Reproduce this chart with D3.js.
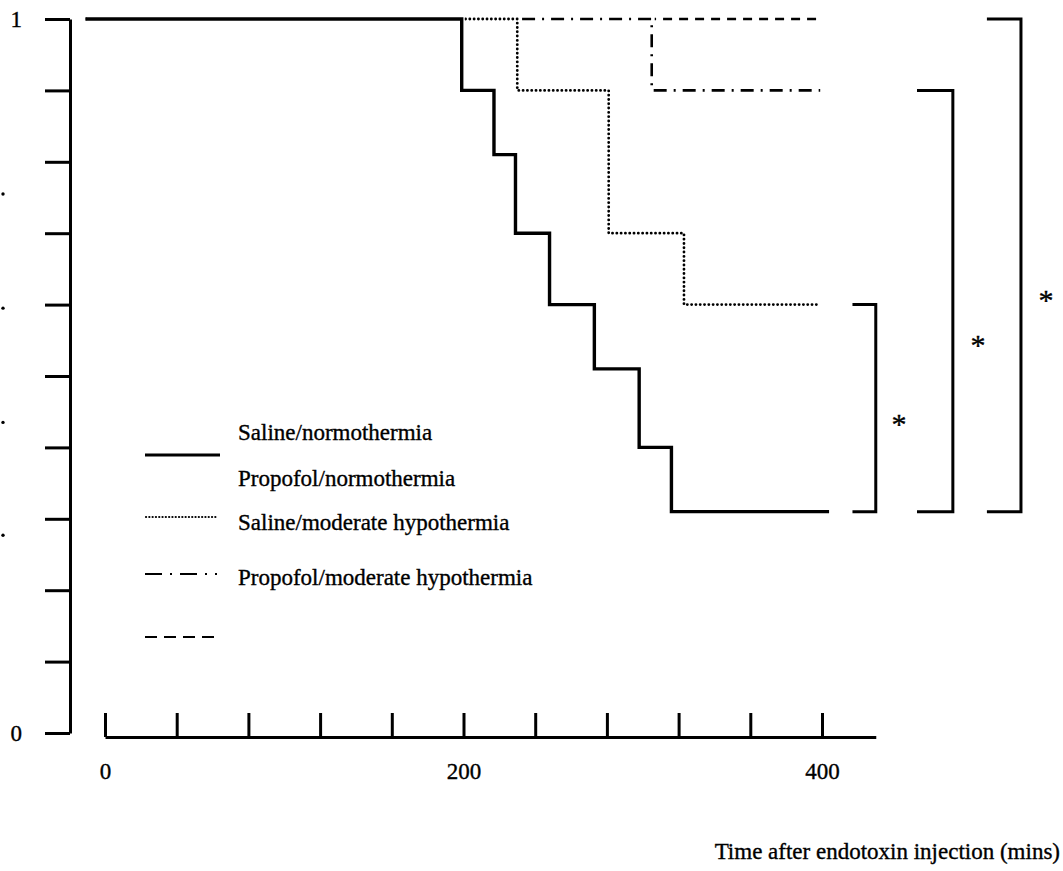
<!DOCTYPE html>
<html>
<head>
<meta charset="utf-8">
<script src="https://cdn.jsdelivr.net/npm/d3@7"></script>
<style>
  html, body { margin: 0; padding: 0; background: #fff; }
  svg { display: block; }
  text { font-family: "Liberation Serif", "Times New Roman", serif; fill: #000; stroke: #000; stroke-width: 0.35px; }
</style>
</head>
<body>
<svg id="chart" width="1063" height="871"></svg>
<script>
// Survival step curves: event times (mins) and surviving fraction after each step
const salineNormoTimes = [-10, 199, 217, 229, 248, 273, 298, 316, 403];
const salineNormoSurv  = [1, 0.9, 0.81, 0.7, 0.6, 0.51, 0.4, 0.31, 0.31];
const propofolNormoTimes = [-10, 230, 281, 323, 397];
const propofolNormoSurv  = [1, 0.9, 0.7, 0.6, 0.6];
const salineHypoTimes = [-10, 305, 399];
const salineHypoSurv  = [1, 0.9, 0.9];
const propofolHypoTimes = [-10, 399];
const propofolHypoSurv  = [1, 1];

// Legend labels
const legendLabels = ["Saline/normothermia", "Propofol/normothermia",
                      "Saline/moderate hypothermia", "Propofol/moderate hypothermia"];

// Axis ticks
const xTickValues = [0, 40, 80, 120, 160, 200, 240, 280, 320, 360, 400];
const xTickLabels = ["0", "", "", "", "", "200", "", "", "", "", "400"];
const yTickValues = [0, 0.1, 0.2, 0.3, 0.4, 0.5, 0.6, 0.7, 0.8, 0.9, 1];
const yTickLabels = ["0", "", "", "", "", "", "", "", "", "", "1"];

// Significance brackets: [left end, vertical at] in mins, [top, bottom] survival
const bracketX   = [[417, 430], [453, 473], [492, 511]];
const bracketY   = [[0.6, 0.31], [0.9, 0.31], [1, 0.31]];
const starX      = [443, 487, 525];
const starY      = [0.44, 0.55, 0.613];

const FONT = "23px";

const svg = d3.select("#chart");

const x = d3.scaleLinear().domain([0, 430]).range([105, 105 + 430 * 1.7925]);
const y = d3.scaleLinear().domain([0, 1]).range([733, 19]);

// Y axis
const yAxis = d3.axisLeft(y)
  .tickValues(yTickValues)
  .tickFormat((d, i) => yTickLabels[i])
  .tickSizeInner(25).tickSizeOuter(0).tickPadding(23);
const gy = svg.append("g").attr("transform", "translate(70,0)").call(yAxis);
gy.selectAll("path, line").attr("stroke", "#000").attr("stroke-width", 3);
gy.selectAll("text").style("font-size", FONT).style("font-family", "Liberation Serif, serif");

// X axis (ticks point up, labels below)
const xAxis = d3.axisBottom(x)
  .tickValues(xTickValues)
  .tickFormat((d, i) => xTickLabels[i])
  .tickSizeInner(-24).tickSizeOuter(0).tickPadding(26);
const gx = svg.append("g").attr("transform", "translate(0,737)").call(xAxis);
gx.selectAll("path, line").attr("stroke", "#000").attr("stroke-width", 3);
gx.selectAll("text").style("font-size", FONT).style("font-family", "Liberation Serif, serif");

// Stray marks at the left margin
[0.755, 0.595, 0.435, 0.277].forEach(v => {
  svg.append("circle").attr("cx", 3).attr("cy", y(v)).attr("r", 1.7).attr("fill", "#000");
});

// Curves
const line = d3.line().x(d => x(d[0])).y(d => y(d[1])).curve(d3.curveStepAfter);
const styles = [
  { t: propofolHypoTimes,  s: propofolHypoSurv,  dash: "9,7",        w: 2.6, cap: "butt" },
  { t: salineHypoTimes,    s: salineHypoSurv,    dash: "13,7,2,7",   w: 2.6, cap: "butt" },
  { t: propofolNormoTimes, s: propofolNormoSurv, dash: "0.1,4.2",    w: 2.8, cap: "round" },
  { t: salineNormoTimes,   s: salineNormoSurv,   dash: null,         w: 3.4, cap: "square" }
];
styles.forEach((st, k) => {
  const pts = st.t.map((t, i) => [t, st.s[i]]);
  if (k > 0) {
    svg.append("path").attr("d", line(pts)).attr("fill", "none")
      .attr("stroke", "#fff").attr("stroke-width", 6);
  }
  svg.append("path").attr("d", line(pts)).attr("fill", "none")
    .attr("stroke", "#000").attr("stroke-width", st.w)
    .attr("stroke-linecap", st.cap)
    .attr("stroke-dasharray", st.dash);
});

// Legend
const legend = svg.append("g");
legend.append("text").attr("x", 238).attr("y", 440).style("font-size", FONT).text(legendLabels[0]);
legend.append("line").attr("x1", 145).attr("x2", 220).attr("y1", 455).attr("y2", 455)
  .attr("stroke", "#000").attr("stroke-width", 3);
legend.append("text").attr("x", 238).attr("y", 486).style("font-size", FONT).text(legendLabels[1]);
legend.append("line").attr("x1", 146).attr("x2", 218).attr("y1", 517).attr("y2", 517)
  .attr("stroke", "#000").attr("stroke-width", 2.2).attr("stroke-dasharray", "0.1,3.2").attr("stroke-linecap", "round");
legend.append("text").attr("x", 238).attr("y", 530).style("font-size", FONT).text(legendLabels[2]);
legend.append("line").attr("x1", 145).attr("x2", 217).attr("y1", 574).attr("y2", 574)
  .attr("stroke", "#000").attr("stroke-width", 2.2).attr("stroke-dasharray", "17,8,2,8");
legend.append("text").attr("x", 238).attr("y", 585).style("font-size", FONT).text(legendLabels[3]);
legend.append("line").attr("x1", 145).attr("x2", 214).attr("y1", 637).attr("y2", 637)
  .attr("stroke", "#000").attr("stroke-width", 2.2).attr("stroke-dasharray", "12,7");

// Brackets and stars
bracketX.forEach((bx, i) => {
  const by = bracketY[i];
  const p = d3.path();
  p.moveTo(x(bx[0]), y(by[0]));
  p.lineTo(x(bx[1]), y(by[0]));
  p.lineTo(x(bx[1]), y(by[1]));
  p.lineTo(x(bx[0]), y(by[1]));
  svg.append("path").attr("d", p.toString()).attr("fill", "none")
    .attr("stroke", "#000").attr("stroke-width", 3);
  svg.append("text").attr("x", x(starX[i])).attr("y", y(starY[i]) + 15)
    .attr("text-anchor", "middle").style("font-size", "30px").text("*");
});

// X axis title
svg.append("text").attr("x", 1060).attr("y", 859).attr("text-anchor", "end")
  .style("font-size", FONT).text("Time after endotoxin injection (mins)");
</script>
</body>
</html>
